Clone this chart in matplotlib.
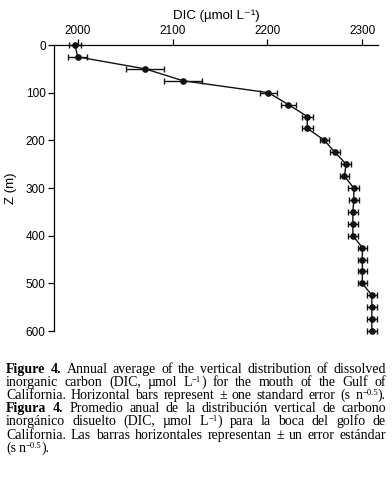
import matplotlib
matplotlib.use('Agg')
from matplotlib import pyplot as plt
import numpy as np

# depth (m) and annual mean DIC (umol/L) with +/- standard error
depth = [0, 25, 50, 75, 100, 125, 150, 175, 200, 225, 250, 275, 300,
         325, 350, 375, 400, 425, 450, 475, 500, 525, 550, 575, 600]
dic = [1997, 2000, 2071, 2111, 2201, 2222, 2242, 2242, 2260, 2271, 2283, 2281, 2291,
       2291, 2290, 2290, 2290, 2300, 2300, 2300, 2300, 2310, 2310, 2310, 2310]
err = [6.5, 10, 20, 20, 9, 8, 6, 6, 5, 5, 5, 5, 6,
       5, 5, 5, 5, 5, 5, 5, 5, 5, 5, 5, 5]

xticks = [2000, 2100, 2200, 2300]
yticks = [0, 100, 200, 300, 400, 500, 600]

SANS = ['Liberation Sans Narrow', 'Liberation Sans', 'DejaVu Sans']
SERIF = ['Liberation Serif', 'DejaVu Serif']

fig = plt.figure(figsize=(3.92, 4.86), dpi=100)
ax = fig.add_axes([54/392, 1-331/486, 324/392, 286/486])

ax.errorbar(dic, depth, xerr=err, fmt='-o', color='#111111', ms=3.8, lw=1.0,
            elinewidth=1.0, capsize=2.2, capthick=1.0, clip_on=False)

ax.set_xlim(1975, 2316.5)
ax.set_ylim(600, 0)
ax.set_xticks(xticks)
ax.set_yticks(yticks)
ax.xaxis.tick_top()
ax.xaxis.set_label_position('top')
for s in ['right', 'bottom']:
    ax.spines[s].set_visible(False)
for s in ['left', 'top']:
    ax.spines[s].set_linewidth(0.9)
ax.tick_params(direction='out', length=4, width=0.9, pad=2, labelsize=8.5)
for lab in ax.get_xticklabels() + ax.get_yticklabels():
    lab.set_family(SANS)
ax.set_xlabel('DIC (µmol L⁻¹)', family=SANS, fontsize=9.5, labelpad=4)
ax.set_ylabel('Z (m)', family=SANS, fontsize=9.5, labelpad=6)

# caption, justified by hand; a word is a string, or a list of
# (text, style) pieces where style is 'b' bold, 'n' normal, 's' superscript
L1 = [('L', 'n'), ('−1', 's'), (')', 'n')]
N5 = [('n', 'n'), ('−0.5', 's'), (').', 'n')]
lines = [
    [[('Figure', 'b')], [('4.', 'b')], 'Annual', 'average', 'of', 'the', 'vertical',
     'distribution', 'of', 'dissolved'],
    ['inorganic', 'carbon', '(DIC,', 'µmol', L1, 'for', 'the', 'mouth', 'of',
     'the', 'Gulf', 'of'],
    ['California.', 'Horizontal', 'bars', 'represent', '±', 'one', 'standard', 'error',
     '(s', N5],
    [[('Figura', 'b')], [('4.', 'b')], 'Promedio', 'anual', 'de', 'la', 'distribución',
     'vertical', 'de', 'carbono'],
    ['inorgánico', 'disuelto', '(DIC,', 'µmol', L1, 'para', 'la', 'boca', 'del',
     'golfo', 'de'],
    ['California.', 'Las', 'barras', 'horizontales', 'representan', '±', 'un', 'error',
     'estándar'],
    ['(s', N5],
]

W = 392.0
H = 486.0
x0, x1 = 6.0, 386.0
y_first = 372.5
step = 13.2
fs = 10.0
renderer = fig.canvas.get_renderer()
for i, line in enumerate(lines):
    yb = 1 - (y_first + i * step) / H
    words = []
    for w in line:
        if isinstance(w, str):
            w = [(w, 'n')]
        pieces = []
        for txt, st in w:
            if st == 's':
                t = fig.text(0, yb + 4.0 / H, txt, family=SERIF, fontsize=fs * 0.62,
                             va='baseline')
            else:
                t = fig.text(0, yb, txt, family=SERIF, fontsize=fs,
                             weight='bold' if st == 'b' else 'normal', va='baseline')
            pieces.append(t)
        words.append(pieces)
    widths = [[p.get_window_extent(renderer).width for p in ws] for ws in words]
    total = sum(sum(ws) for ws in widths)
    if i == len(lines) - 1:
        gap = 3.0
    else:
        gap = (x1 - x0 - total) / (len(words) - 1)
    x = x0
    for ws, wd in zip(words, widths):
        for p, pw in zip(ws, wd):
            p.set_x(x / W)
            x += pw
        x += gap

fig.savefig('out.png', dpi=100)
